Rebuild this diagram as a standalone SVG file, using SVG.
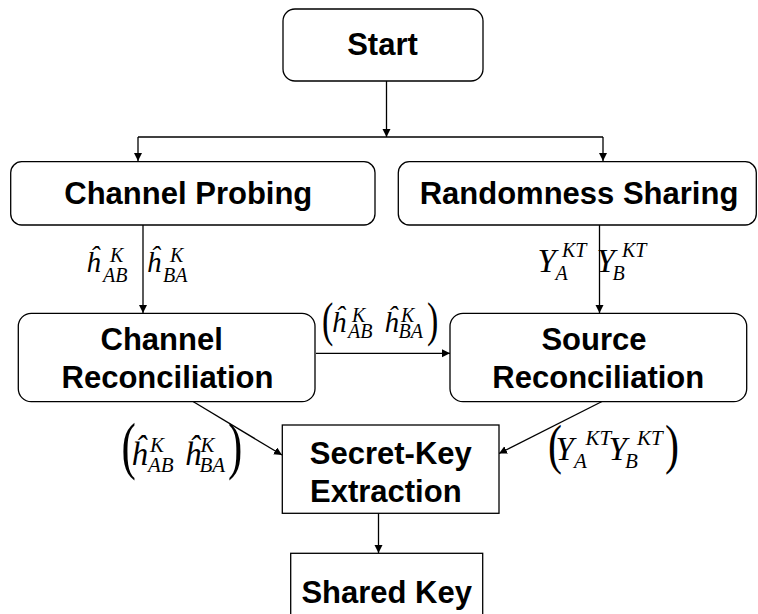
<svg xmlns="http://www.w3.org/2000/svg" width="758" height="614" viewBox="0 0 758 614">
  <style>
    .box { fill: #ffffff; stroke: #000000; stroke-width: 1.3; }
    .lbl { font-family: "Liberation Sans", Arial, sans-serif; font-weight: bold; font-size: 31px; fill: #000000; text-anchor: middle; }
    .m { font-family: "Liberation Serif", "Times New Roman", serif; font-style: italic; fill: #000000; }
    .p { font-family: "Liberation Serif", "Times New Roman", serif; font-style: normal; }
    .wire { fill: none; stroke: #000000; stroke-width: 1.3; }
  </style>
  <defs>
    <marker id="arrow" markerUnits="userSpaceOnUse" markerWidth="10" markerHeight="10" refX="8" refY="4" orient="auto">
      <path d="M0,0 L8,4 L0,8 Z" fill="#000000"/>
    </marker>
  </defs>
  <rect width="758" height="614" fill="#ffffff"/>

  <!-- connectors -->
  <g id="connectors">
    <path class="wire" d="M386.5,81 V137" marker-end="url(#arrow)"/>
    <path class="wire" d="M138,137 H603"/>
    <path class="wire" d="M138,137 V161" marker-end="url(#arrow)"/>
    <path class="wire" d="M603,137 V161" marker-end="url(#arrow)"/>
    <path class="wire" d="M143,225 V313" marker-end="url(#arrow)"/>
    <path class="wire" d="M599.5,225 V313" marker-end="url(#arrow)"/>
    <path class="wire" d="M316,353.3 H450" marker-end="url(#arrow)"/>
    <path class="wire" d="M193,401.5 L282,455" marker-end="url(#arrow)"/>
    <path class="wire" d="M602,401.5 L499,453.5" marker-end="url(#arrow)"/>
    <path class="wire" d="M378.5,513 V553" marker-end="url(#arrow)"/>
  </g>

  <!-- nodes -->
  <g id="start">
    <rect class="box" x="283" y="9" width="200" height="72" rx="12"/>
    <text class="lbl" x="382.5" y="55">Start</text>
  </g>
  <g id="channel-probing">
    <rect class="box" x="10.7" y="161.7" width="364.3" height="63.3" rx="11"/>
    <text class="lbl" x="188.3" y="204.3">Channel Probing</text>
  </g>
  <g id="randomness-sharing">
    <rect class="box" x="398.3" y="161.7" width="358" height="63.3" rx="11"/>
    <text class="lbl" x="579" y="204.3">Randomness Sharing</text>
  </g>
  <g id="channel-reconciliation">
    <rect class="box" x="18.3" y="313.3" width="296.7" height="88.4" rx="13"/>
    <text class="lbl" x="161.7" y="350">Channel</text>
    <text class="lbl" x="167.5" y="388.3">Reconciliation</text>
  </g>
  <g id="source-reconciliation">
    <rect class="box" x="450" y="313.3" width="296.7" height="88.4" rx="13"/>
    <text class="lbl" x="594" y="350">Source</text>
    <text class="lbl" x="598.3" y="388.3">Reconciliation</text>
  </g>
  <g id="secret-key-extraction">
    <rect class="box" x="282.3" y="425" width="216.7" height="88.3"/>
    <text class="lbl" x="390.8" y="464">Secret-Key</text>
    <text class="lbl" x="385.8" y="501.7">Extraction</text>
  </g>
  <g id="shared-key">
    <rect class="box" x="290.7" y="553.3" width="192" height="70"/>
    <text class="lbl" x="386.7" y="603.3">Shared Key</text>
  </g>

  <!-- channel estimates on the probing link -->
  <text id="label-probing" class="m" font-size="20"><tspan x="86" y="272" font-size="29">ĥ</tspan><tspan x="110" y="261.7">K</tspan><tspan x="103" y="281.7">AB</tspan><tspan x="146.5" y="272" font-size="29">ĥ</tspan><tspan x="170" y="261.7">K</tspan><tspan x="163" y="281.7">BA</tspan></text>

  <!-- shared randomness on the sharing link -->
  <text id="label-sharing" class="m" font-size="20"><tspan x="537.5" y="271.7" font-size="33">Y</tspan><tspan x="562" y="256.7">KT</tspan><tspan x="555.5" y="279.5">A</tspan><tspan x="596.5" y="271.7" font-size="33">Y</tspan><tspan x="622" y="256.7">KT</tspan><tspan x="612.5" y="279.5">B</tspan></text>

  <!-- estimates passed between the reconciliation stages -->
  <g id="label-middle">
    <text class="m" font-size="20"><tspan x="331.5" y="331.7" font-size="29">ĥ</tspan><tspan x="352" y="321.7">K</tspan><tspan x="348" y="338.3">AB</tspan><tspan x="384" y="331.7" font-size="29">ĥ</tspan><tspan x="401" y="321.7">K</tspan><tspan x="398.5" y="338.3">BA</tspan></text>
    <text class="m p" transform="translate(322,336) scale(1,1.45)" font-size="34">(</text>
    <text class="m p" transform="translate(427,336) scale(1,1.45)" font-size="34">)</text>
  </g>

  <!-- inputs to the extraction stage -->
  <g id="label-left">
    <text class="m" font-size="21"><tspan x="131" y="465" font-size="33">ĥ</tspan><tspan x="150" y="451.7">K</tspan><tspan x="148" y="471.7">AB</tspan><tspan x="184.5" y="465" font-size="33">ĥ</tspan><tspan x="200.5" y="451.7">K</tspan><tspan x="199.5" y="471.7">BA</tspan></text>
    <text class="m p" transform="translate(121.5,467) scale(1,1.45)" font-size="43">(</text>
    <text class="m p" transform="translate(228,467) scale(1,1.45)" font-size="43">)</text>
  </g>
  <g id="label-right">
    <text class="m" font-size="21"><tspan x="555.5" y="460" font-size="33">Y</tspan><tspan x="585.5" y="445">KT</tspan><tspan x="574" y="468.3">A</tspan><tspan x="608.5" y="460" font-size="33">Y</tspan><tspan x="637" y="445">KT</tspan><tspan x="625" y="468.3">B</tspan></text>
    <text class="m p" transform="translate(548,463) scale(1,1.3)" font-size="42">(</text>
    <text class="m p" transform="translate(665,463) scale(1,1.3)" font-size="42">)</text>
  </g>
</svg>
